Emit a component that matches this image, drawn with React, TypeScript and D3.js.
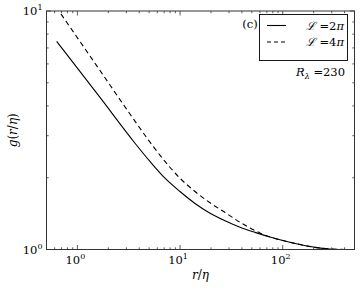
import * as d3 from 'd3';

// r/eta values and g(r/eta)
const xSolid = [0.628, 1.66, 3.64, 5.09, 7.13, 9.98, 13.98, 19.57, 27.4, 38.4, 53.7, 75.2, 105, 147, 206, 288, 404];
const ySolid = [7.46, 4.34, 2.79, 2.34, 1.99, 1.75, 1.56, 1.42, 1.32, 1.24, 1.18, 1.128, 1.085, 1.049, 1.021, 1.005, 1.0];

const xDashed = [0.692, 1.66, 3.25, 5.09, 7.13, 9.98, 13.98, 19.57, 27.4, 38.4, 48, 60, 75.2, 105, 147, 206, 288, 404];
const yDashed = [9.71, 5.63, 3.7, 2.82, 2.34, 1.99, 1.75, 1.57, 1.43, 1.3, 1.23, 1.173, 1.128, 1.085, 1.049, 1.021, 1.005, 1.0];

const xMajor = [1, 10, 100];
const xMinor = [0.5, 0.6, 0.7, 0.8, 0.9, 2, 3, 4, 5, 6, 7, 8, 9, 20, 30, 40, 50, 60, 70, 80, 90, 200, 300, 400, 500];
const yMajor = [1, 10];
const yMinor = [2, 3, 4, 5, 6, 7, 8, 9];

const W = 360;
const H = 288;
const left = 46.5;
const right = 354.5;
const top = 11;
const bottom = 249.5;

const serif = '"DejaVu Serif", "Liberation Serif", serif';

function Pow10({ x, y, e, anchor }: { x: number; y: number; e: number; anchor: string }) {
  return (
    <text x={x} y={y} textAnchor={anchor} fontSize={11.5} fill="#000">
      10<tspan dy={-5} fontSize={8}>{e}</tspan>
    </text>
  );
}

export default function App() {
  const x = d3.scaleLog().domain([0.5, 500]).range([left, right]);
  const y = d3.scaleLog().domain([1, 10]).range([bottom, top]);

  const line = d3
    .line<[number, number]>()
    .x((d) => x(d[0]))
    .y((d) => y(d[1]))
    .curve(d3.curveMonotoneX);

  const solid = line(xSolid.map((v, i) => [v, ySolid[i]]) as [number, number][]);
  const dashed = line(xDashed.map((v, i) => [v, yDashed[i]]) as [number, number][]);

  const ax = '#333';

  return (
    <svg
      width={W}
      height={H}
      viewBox={`0 0 ${W} ${H}`}
      style={{ position: 'absolute', left: 0, top: 0, display: 'block', background: '#fff', fontFamily: serif }}
    >
      <defs>
        <clipPath id="plot">
          <rect x={left} y={top} width={right - left} height={bottom - top} />
        </clipPath>
      </defs>

      <g clipPath="url(#plot)" fill="none" stroke="#000" strokeWidth={1.1}>
        <path d={solid ?? ''} />
        <path d={dashed ?? ''} strokeDasharray="5,3.5" />
      </g>

      {/* ticks, pointing inwards on all four sides */}
      <g stroke={ax} strokeWidth={0.8}>
        {xMajor.map((t) => (
          <g key={'xM' + t}>
            <line x1={x(t)} x2={x(t)} y1={bottom} y2={bottom - 4.5} />
            <line x1={x(t)} x2={x(t)} y1={top} y2={top + 4.5} />
          </g>
        ))}
        {xMinor.map((t) => (
          <g key={'xm' + t}>
            <line x1={x(t)} x2={x(t)} y1={bottom} y2={bottom - 2.2} />
            <line x1={x(t)} x2={x(t)} y1={top} y2={top + 2.2} />
          </g>
        ))}
        {yMajor.map((t) => (
          <g key={'yM' + t}>
            <line x1={left} x2={left + 4.5} y1={y(t)} y2={y(t)} />
            <line x1={right} x2={right - 4.5} y1={y(t)} y2={y(t)} />
          </g>
        ))}
        {yMinor.map((t) => (
          <g key={'ym' + t}>
            <line x1={left} x2={left + 2.2} y1={y(t)} y2={y(t)} />
            <line x1={right} x2={right - 2.2} y1={y(t)} y2={y(t)} />
          </g>
        ))}
      </g>

      <rect x={left} y={top} width={right - left} height={bottom - top} fill="none" stroke={ax} strokeWidth={1} />

      {xMajor.map((t) => (
        <Pow10 key={'xl' + t} x={x(t) - 2} y={bottom + 14} e={Math.round(Math.log10(t))} anchor="middle" />
      ))}
      {yMajor.map((t) => (
        <Pow10 key={'yl' + t} x={left - 4} y={y(t) + 4} e={Math.round(Math.log10(t))} anchor="end" />
      ))}

      <text x={(left + right) / 2} y={279} textAnchor="middle" fontSize={12} fontStyle="italic">
        r<tspan fontStyle="normal">/</tspan>η
      </text>
      <text
        transform={`translate(17, ${(top + bottom) / 2}) rotate(-90)`}
        textAnchor="middle"
        fontSize={12}
        fontStyle="italic"
      >
        g<tspan fontStyle="normal">(</tspan>r<tspan fontStyle="normal">/</tspan>η<tspan fontStyle="normal">)</tspan>
      </text>

      {/* panel tag and legend */}
      <text x={250} y={28} textAnchor="middle" fontSize={11.5}>(c)</text>
      <rect x={259.5} y={14.5} width={88} height={46} fill="#fff" stroke="#000" strokeWidth={0.9} />
      <line x1={267} x2={286} y1={25.5} y2={25.5} stroke="#000" strokeWidth={1.1} />
      <line x1={267} x2={287} y1={42} y2={42} stroke="#000" strokeWidth={1.1} strokeDasharray="4,3" />
      <text x={344} y={29.5} textAnchor="end" fontSize={11.5}>
        <tspan fontStyle="italic">ℒ</tspan> =2<tspan fontStyle="italic">π</tspan>
      </text>
      <text x={344} y={46} textAnchor="end" fontSize={11.5}>
        <tspan fontStyle="italic">ℒ</tspan> =4<tspan fontStyle="italic">π</tspan>
      </text>
      <text x={345} y={76} textAnchor="end" fontSize={11.5}>
        <tspan fontStyle="italic">R</tspan>
        <tspan dy={3} fontSize={8} fontStyle="italic">λ</tspan>
        <tspan dy={-3}> =230</tspan>
      </text>
    </svg>
  );
}
